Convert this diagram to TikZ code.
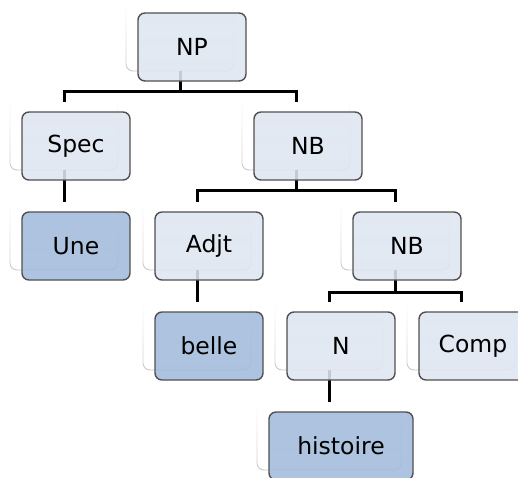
\documentclass[tikz,border=0pt]{standalone}
\usepackage{fontspec}
\setmainfont{DejaVu Sans}
\usetikzlibrary{fadings}
\definecolor{inner}{HTML}{DEE6F1}
\definecolor{leaf}{HTML}{A2BBDB}
\definecolor{rim}{HTML}{505050}
\definecolor{ghost}{HTML}{C8C8C8}
\tikzset{
  every node/.style={font=\fontsize{23.5}{28}\selectfont},
  back/.style={rectangle, rounded corners=7pt, minimum width=108pt, minimum height=68pt,
    inner sep=0pt, fill=white, draw=ghost, line width=0.9pt, path fading=north},
  wideback/.style={back, minimum width=144pt},
  front/.style={rectangle, rounded corners=7pt, minimum width=108pt, minimum height=68pt,
    inner sep=0pt, fill=inner, fill opacity=0.88, text opacity=1, draw=rim, line width=1.4pt},
  leafbox/.style={front, fill=leaf},
  wideleaf/.style={leafbox, minimum width=144pt},
  branch/.style={line width=3pt, black},
}
\begin{document}
\begin{tikzpicture}[x=1pt,y=-1pt]
\useasboundingbox (0,0) rectangle (518,477);
\clip (0,0) rectangle (518,477);

% plates behind the labelled boxes
\node[back] (npb) at (180,37) {};
\node[back] (specb) at (64,136) {};
\node[back] (nbab) at (296,136) {};
\node[back] (uneb) at (64,236) {};
\node[back] (adjtb) at (197,236) {};
\node[back] (nbbb) at (395,236) {};
\node[back] (belleb) at (197,336) {};
\node[back] (nb) at (329,336) {};
\node[back] (compb) at (461,336) {};
\node[wideback] (histb) at (329,436) {};

% junction points of the branches
\coordinate (j1) at (180,91);
\coordinate (j2) at (296,190);
\coordinate (j3) at (395,292);

% branches
\draw[branch] (npb.south) -- (j1);
\draw[branch] (specb.north) |- (j1) -| (nbab.north);
\draw[branch] (specb.south) -- (uneb.north);
\draw[branch] (nbab.south) -- (j2);
\draw[branch] (adjtb.north) |- (j2) -| (nbbb.north);
\draw[branch] (adjtb.south) -- (belleb.north);
\draw[branch] (nbbb.south) -- (j3);
\draw[branch] (nb.north) |- (j3) -| (compb.north);
\draw[branch] (nb.south) -- (histb.north);

% labelled boxes
\node[front] (np) at (192,47) {NP};
\node[front] (spec) at (76,146) {Spec};
\node[front] (nba) at (308,146) {NB};
\node[leafbox] (une) at (76,246) {Une};
\node[front] (adjt) at (209,246) {Adjt};
\node[front] (nbb) at (407,246) {NB};
\node[leafbox] (belle) at (209,346) {belle};
\node[front] (n) at (341,346) {N};
\node[front] (comp) at (473,346) {Comp};
\node[wideleaf] (hist) at (341,446) {histoire};
\end{tikzpicture}
\end{document}
